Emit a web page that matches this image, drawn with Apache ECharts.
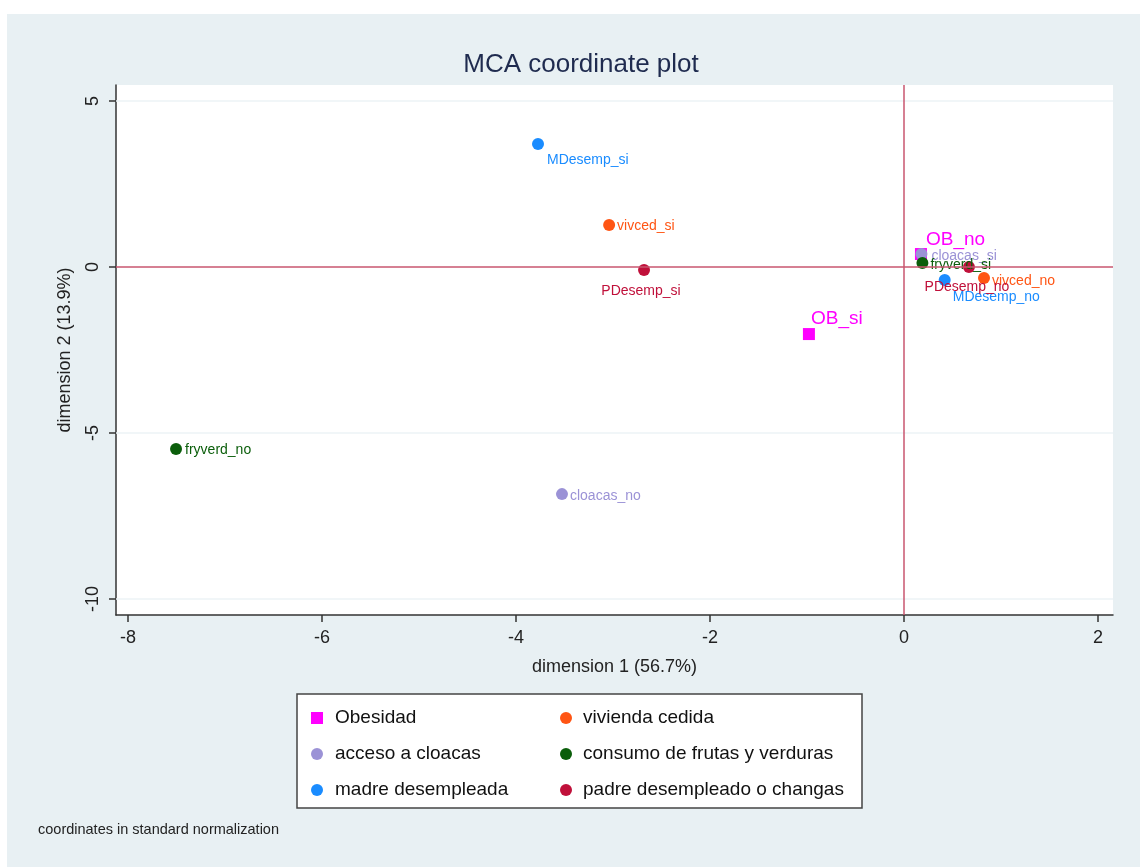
<!DOCTYPE html>
<html>
<head>
<meta charset="utf-8">
<script src="https://cdn.jsdelivr.net/npm/echarts@6/dist/echarts.min.js"></script>
<style>
html,body{margin:0;padding:0;background:#fff;}
#panel{position:absolute;left:7px;top:14px;width:1133px;height:853px;background:#e8f0f3;}
#chart{position:absolute;left:0;top:0;width:1140px;height:867px;}
</style>
</head>
<body>
<div id="panel"></div>
<div id="chart"></div>
<script>
// Data: [label, dimension 1, dimension 2]
const obesidad = [['OB_no', 0.175, 0.39], ['OB_si', -0.98, -2.02]];
const viviendaCedida = [['vivced_no', 0.825, -0.33], ['vivced_si', -3.04, 1.265]];
const cloacas = [['cloacas_si', 0.18, 0.39], ['cloacas_no', -3.526, -6.84]];
const frutasVerduras = [['fryverd_si', 0.19, 0.12], ['fryverd_no', -7.505, -5.48]];
const madreDesempleada = [['MDesemp_no', 0.42, -0.39], ['MDesemp_si', -3.773, 3.70]];
const padreDesempleado = [['PDesemp_no', 0.67, 0.0], ['PDesemp_si', -2.68, -0.09]];
const xTicks = [-8, -6, -4, -2, 0, 2];
const yTicks = [5, 0, -5, -10];

const seriesDefs = [
  {name: 'Obesidad', data: obesidad, color: '#ff00ff', symbol: 'rect', size: 12, font: 19},
  {name: 'acceso a cloacas', data: cloacas, color: '#9b92d6', symbol: 'circle', size: 12, font: 14},
  {name: 'madre desempleada', data: madreDesempleada, color: '#1a8cff', symbol: 'circle', size: 12, font: 14},
  {name: 'vivienda cedida', data: viviendaCedida, color: '#ff5514', symbol: 'circle', size: 12, font: 14},
  {name: 'consumo de frutas y verduras', data: frutasVerduras, color: '#0b5e0b', symbol: 'circle', size: 12, font: 14},
  {name: 'padre desempleado o changas', data: padreDesempleado, color: '#c0103a', symbol: 'circle', size: 12, font: 14}
];

// label placement per point (style only)
const labelPlace = {
  OB_no: {position: 'right', offset: [-5, -14]},
  OB_si: {position: 'right', offset: [-8, -15]},
  cloacas_si: {position: 'right', offset: [0, 2]},
  cloacas_no: {position: 'right', offset: [-2, 2]},
  MDesemp_si: {position: 'right', offset: [-1, 16]},
  MDesemp_no: {position: 'right', offset: [-2, 17]},
  vivced_si: {position: 'right', offset: [-2, 1]},
  vivced_no: {position: 'right', offset: [-2, 3]},
  fryverd_si: {position: 'right', offset: [-2, 2]},
  fryverd_no: {position: 'right', offset: [-1, 1]},
  PDesemp_si: {position: 'bottom', offset: [-3, 4]},
  PDesemp_no: {position: 'bottom', offset: [-2, 3]}
};

const FONT = 'Liberation Sans, Arial, sans-serif';

const series = seriesDefs.map(function (s) {
  return {
    name: s.name,
    type: 'scatter',
    symbol: s.symbol,
    symbolSize: s.size,
    itemStyle: {color: s.color, opacity: 1},
    z: s.symbol === 'rect' ? 2 : 3,
    data: s.data.map(function (d) {
      const lp = labelPlace[d[0]];
      return {
        value: [d[1], d[2]],
        name: d[0],
        label: {
          show: true,
          formatter: d[0],
          position: lp.position,
          offset: lp.offset,
          distance: 4,
          color: s.color,
          fontSize: s.font,
          fontFamily: FONT
        }
      };
    }),
    emphasis: {disabled: true}
  };
});

// reference lines and faint gridlines
series.push({
  type: 'scatter',
  data: [],
  silent: true,
  z: 1,
  markLine: {
    silent: true,
    symbol: 'none',
    label: {show: false},
    animation: false,
    data: yTicks.filter(function (v) { return v !== 0; }).map(function (v) {
      return {yAxis: v, lineStyle: {color: '#edf3f6', width: 1.5, type: 'solid'}};
    }).concat([
      {yAxis: 0, lineStyle: {color: '#c9566f', width: 1.5, type: 'solid'}},
      {xAxis: 0, lineStyle: {color: '#c9566f', width: 1.5, type: 'solid'}}
    ])
  }
});

const legendCommon = {
  orient: 'vertical',
  itemWidth: 12,
  itemHeight: 12,
  itemGap: 16,
  selectedMode: false
};

const chart = echarts.init(document.getElementById('chart'), null, {renderer: 'canvas'});
chart.setOption({
  backgroundColor: 'transparent',
  animation: false,
  title: {
    text: 'MCA coordinate plot',
    left: 576,
    textAlign: 'center',
    top: 47,
    textStyle: {fontSize: 26, fontWeight: 'normal', color: '#1f2b4f', fontFamily: FONT}
  },
  grid: {
    left: 116, top: 85, right: 27, bottom: 252,
    show: true, backgroundColor: '#ffffff', borderWidth: 0
  },
  xAxis: {
    type: 'value',
    min: -8.124, max: 2.155,
    name: 'dimension 1 (56.7%)',
    nameLocation: 'middle',
    nameGap: 43,
    nameTextStyle: {fontSize: 18, color: '#222', fontFamily: FONT},
    axisLine: {show: true, onZero: false, lineStyle: {color: '#333', width: 1.5}},
    axisTick: {show: true, length: 7, customValues: xTicks, lineStyle: {color: '#333', width: 1.5}},
    axisLabel: {customValues: xTicks, fontSize: 18, color: '#222', margin: 14, fontFamily: FONT},
    splitLine: {show: false}
  },
  yAxis: {
    type: 'value',
    min: -10.48, max: 5.48,
    name: 'dimension 2 (13.9%)',
    nameLocation: 'middle',
    nameGap: 42,
    nameRotate: 90,
    nameTextStyle: {fontSize: 18, color: '#222', fontFamily: FONT},
    axisLine: {show: true, onZero: false, lineStyle: {color: '#333', width: 1.5}},
    axisTick: {show: true, length: 7, customValues: yTicks, lineStyle: {color: '#333', width: 1.5}},
    axisLabel: {customValues: yTicks, rotate: 90, fontSize: 18, color: '#222', margin: 14, fontFamily: FONT},
    splitLine: {show: false}
  },
  legend: [
    Object.assign({}, legendCommon, {
      left: 306, top: 703,
      textStyle: {fontSize: 19, fontFamily: FONT, color: '#111', lineHeight: 20, padding: [0, 0, 0, 7]},
      data: [
        {name: 'Obesidad', icon: 'rect'},
        {name: 'acceso a cloacas', icon: 'circle'},
        {name: 'madre desempleada', icon: 'circle'}
      ]
    }),
    Object.assign({}, legendCommon, {
      left: 555, top: 703,
      textStyle: {fontSize: 19, fontFamily: FONT, color: '#111', lineHeight: 20, padding: [0, 0, 0, 6]},
      data: [
        {name: 'vivienda cedida', icon: 'circle'},
        {name: 'consumo de frutas y verduras', icon: 'circle'},
        {name: 'padre desempleado o changas', icon: 'circle'}
      ]
    })
  ],
  graphic: [
    {
      type: 'rect',
      shape: {x: 297, y: 694, width: 565, height: 114},
      style: {fill: '#ffffff', stroke: '#444', lineWidth: 1.5},
      z: 0, silent: true
    },
    {
      type: 'text',
      left: 38, top: 822,
      style: {text: 'coordinates in standard normalization', fontSize: 14.5, fill: '#222', fontFamily: FONT},
      silent: true
    }
  ],
  series: series
});
</script>
</body>
</html>
